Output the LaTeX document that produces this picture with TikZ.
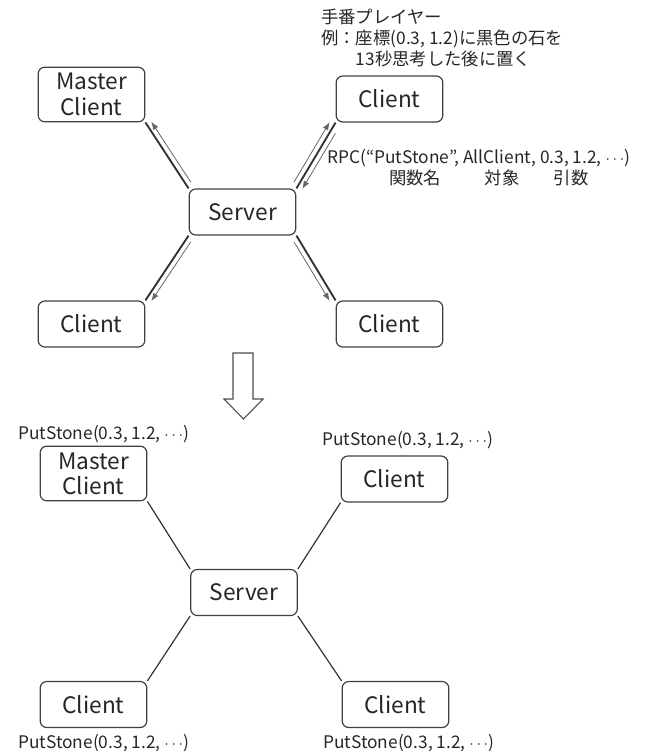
\documentclass[tikz,border=0pt]{standalone}
\usepackage{fontspec}
\setmainfont{Noto Sans CJK JP}
\usetikzlibrary{arrows.meta}

\begin{document}
\begin{tikzpicture}[x=0.75pt,y=-0.75pt,
	box/.style={shape=rectangle,rounded corners=5pt,draw=black!75,line width=0.9pt,minimum width=80pt,minimum height=34.5pt,align=center,inner sep=0pt,text=black!85,font=\fontsize{17}{19}\selectfont},
	lbl/.style={inner sep=0pt,text=black!85,font=\fontsize{13}{15.75}\selectfont},
	link/.style={draw=black!80,line width=1.4pt},
	msg/.style={draw=black!60,line width=0.6pt,-{Latex[length=6pt,width=4.5pt]},shorten <=3pt,shorten >=2pt},
	wire/.style={draw=black!80,line width=0.9pt}]

	\useasboundingbox (0,0) rectangle (648,751);

	% before: RPC sent through the server
	\node[box,minimum height=41pt] (m1) at (91.5, 94.5) {Master\\Client};
	\node[box] (c1) at (389.5, 99)   {Client};
	\node[box] (s1) at (242.5, 212)  {Server};
	\node[box] (c2) at (91.5, 324)   {Client};
	\node[box] (c3) at (389.5, 324)  {Client};

	\node[lbl,anchor=west,align=left] (note) at (321, 38) {手番プレイヤー\\例：座標(0.3, 1.2)に黒色の石を\\　　13秒思考した後に置く};
	\node[lbl,anchor=west] (rpc) at (327, 158) {RPC(“PutStone”, AllClient, 0.3, 1.2, $\cdots$)};
	\node[lbl] (fn)  at (415, 178) {関数名};
	\node[lbl] (tg)  at (502, 178) {対象};
	\node[lbl] (arg) at (571, 178) {引数};

	\path[link] (s1.north west) edge (m1.south east);
	\path[link] (s1.north east) edge (c1.south west);
	\path[link] (s1.south west) edge (c2.north east);
	\path[link] (s1.south east) edge (c3.north west);

	\draw[msg] ([xshift=3.3pt,yshift=2.2pt]s1.north west) -- ([xshift=3.3pt,yshift=2.2pt]m1.south east);
	\draw[msg] ([xshift=-3.4pt,yshift=2.1pt]s1.north east) -- ([xshift=-3.4pt,yshift=2.1pt]c1.south west);
	\draw[msg,shorten <=7pt] ([xshift=3.4pt,yshift=-2.1pt]c1.south west) -- ([xshift=3.4pt,yshift=-2.1pt]s1.north east);
	\draw[msg] ([xshift=3.3pt,yshift=-2.2pt]s1.south west) -- ([xshift=3.3pt,yshift=-2.2pt]c2.north east);
	\draw[msg] ([xshift=-3.4pt,yshift=-2.1pt]s1.south east) -- ([xshift=-3.4pt,yshift=-2.1pt]c3.north west);

	% block arrow
	\draw[draw=black!70,line width=0.8pt,fill=white] (233,353) -- (253,353) -- (253,399) -- (263,399) -- (243.5,419) -- (224,399) -- (233,399) -- cycle;

	% after: every client runs the function
	\node[box,minimum height=41pt] (m2) at (93.5, 473.5) {Master\\Client};
	\node[box] (c4) at (394.5, 479)   {Client};
	\node[box] (s2) at (244, 592.5)   {Server};
	\node[box] (c5) at (93.5, 704.5)  {Client};
	\node[box] (c6) at (395.5, 704.5) {Client};

	\node[lbl,anchor=west] (p1) at (18, 434)  {PutStone(0.3, 1.2, $\cdots$)};
	\node[lbl,anchor=west] (p2) at (322, 440) {PutStone(0.3, 1.2, $\cdots$)};
	\node[lbl,anchor=west] (p3) at (18, 743)  {PutStone(0.3, 1.2, $\cdots$)};
	\node[lbl,anchor=west] (p4) at (323, 743) {PutStone(0.3, 1.2, $\cdots$)};

	\path[wire] (s2.north west) edge (m2.south east);
	\path[wire] (s2.north east) edge (c4.south west);
	\path[wire] (s2.south west) edge (c5.north east);
	\path[wire] (s2.south east) edge (c6.north west);

\end{tikzpicture}
\end{document}
